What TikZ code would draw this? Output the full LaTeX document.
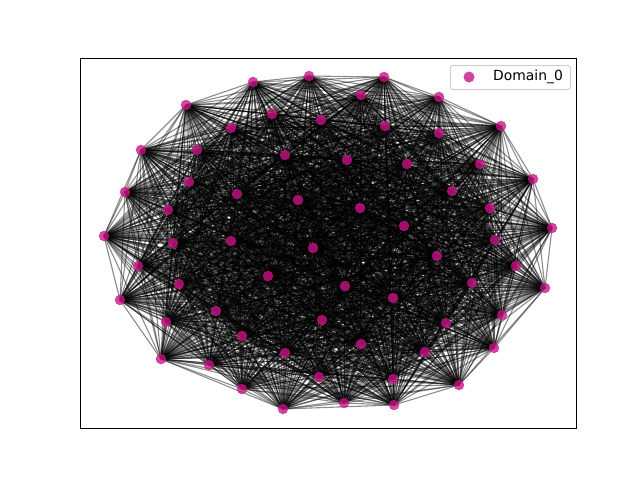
\documentclass[tikz,border=0pt]{standalone}
\usepackage{fontspec}
\setmainfont{DejaVu Sans}
\definecolor{nodecol}{RGB}{199,21,133}
\definecolor{legframe}{RGB}{204,204,204}
\begin{document}
\begin{tikzpicture}[x=1pt,y=-1pt,
  edge/.style={draw=black,opacity=0.45,line width=1.1pt},
  dot/.style={circle,fill=nodecol,fill opacity=0.8,draw=none,minimum size=10.5pt,inner sep=0pt},
  frame/.style={draw=black,line width=1pt},
  legbox/.style={draw=legframe,fill=white,fill opacity=0.8,draw opacity=1,rounded corners=2.5pt,line width=0.9pt}]
\useasboundingbox (0,0) rectangle (640,480);
\foreach \x/\y [count=\k] in {
309/76,253/82,186/105,272/114,321/120,231/128,141/150,197/150,285/155,189/182,
125/192,237/194,298/200,168/210,104/236,173/243,231/241,313/248,384/77,361/95,
439/97,501/126,385/126,439/133,347/160,407/164,480/164,533/179,452/191,360/208,
490/208,404/226,552/228,495/240,138/266,268/276,179/284,120/300,216/311,322/320,
166/322,242/336,285/353,161/359,209/365,319/377,242/389,283/409,437/256,516/266,
345/286,472/283,545/288,393/298,502/315,446/323,361/344,494/348,425/352,393/379,
459/385,344/403,394/405}
  \coordinate (c\k) at (\x,\y);
\foreach \i in {1,...,62}{
  \pgfmathtruncatemacro\nxt{\i+1}
  \foreach \j in {\nxt,...,63}{
    \draw[edge] (c\i) -- (c\j);
  }
}
\foreach \k in {1,...,63}
  \node[dot] (n\k) at (c\k) {};
\draw[frame] (80,58) rectangle (576,428);
\node[legbox,minimum width=120pt,minimum height=24pt,anchor=north west] (leg) at (450,65) {};
\node[dot,minimum size=11pt] (legdot) at (469,77) {};
\node[anchor=west,inner sep=0pt,font=\fontsize{13.9}{16}\selectfont] (legtxt) at (493,77) {Domain\_0};
\end{tikzpicture}
\end{document}
